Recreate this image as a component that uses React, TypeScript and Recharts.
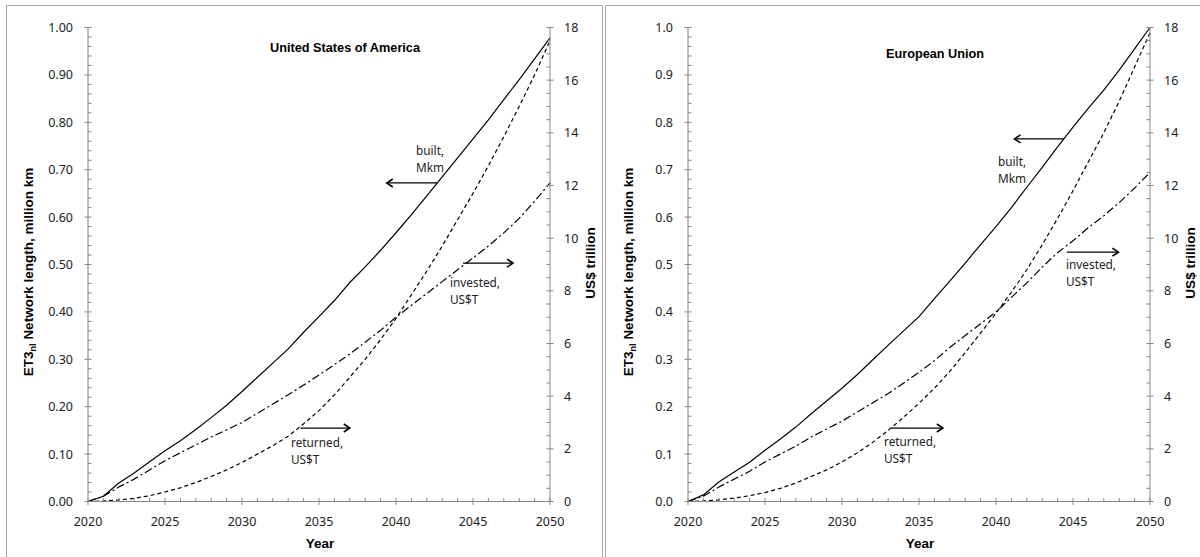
import React from 'react';
import { LineChart, Line, XAxis, YAxis, ReferenceLine } from 'recharts';

const years = [
  2020, 2021, 2022, 2023, 2024, 2025, 2026, 2027, 2028, 2029, 2030,
  2031, 2032, 2033, 2034, 2035, 2036, 2037, 2038, 2039, 2040,
  2041, 2042, 2043, 2044, 2045, 2046, 2047, 2048, 2049, 2050,
];

// million km (left axis)
const usaBuilt = [0, 0.011, 0.039, 0.06, 0.084, 0.107, 0.128, 0.152, 0.177, 0.203, 0.232, 0.262, 0.292, 0.322, 0.357, 0.39, 0.424, 0.462, 0.495, 0.53, 0.567, 0.605, 0.645, 0.685, 0.725, 0.765, 0.805, 0.848, 0.89, 0.934, 0.978];
// US$ trillion (right axis)
const usaReturned = [0, 0.02, 0.06, 0.12, 0.22, 0.36, 0.52, 0.72, 0.95, 1.2, 1.48, 1.8, 2.12, 2.48, 2.95, 3.45, 4.05, 4.72, 5.4, 6.15, 6.95, 7.85, 8.75, 9.7, 10.7, 11.7, 12.75, 13.85, 15.0, 16.2, 17.5];
const usaInvested = [0, 0.2, 0.55, 0.85, 1.2, 1.55, 1.85, 2.15, 2.45, 2.72, 3.0, 3.35, 3.7, 4.05, 4.42, 4.8, 5.2, 5.6, 6.05, 6.5, 7.0, 7.45, 7.9, 8.35, 8.8, 9.25, 9.7, 10.2, 10.75, 11.4, 12.1];

const euBuilt = [0, 0.014, 0.041, 0.062, 0.083, 0.108, 0.132, 0.157, 0.185, 0.212, 0.239, 0.268, 0.299, 0.33, 0.36, 0.39, 0.428, 0.465, 0.503, 0.542, 0.58, 0.62, 0.663, 0.705, 0.748, 0.79, 0.83, 0.868, 0.91, 0.955, 1.0];
const euReturned = [0, 0.02, 0.06, 0.13, 0.22, 0.34, 0.5, 0.7, 0.95, 1.2, 1.5, 1.85, 2.25, 2.7, 3.2, 3.73, 4.3, 4.94, 5.65, 6.4, 7.15, 7.95, 8.8, 9.75, 10.75, 11.8, 12.9, 14.0, 15.2, 16.5, 17.8];
const euInvested = [0, 0.2, 0.55, 0.85, 1.15, 1.5, 1.8, 2.1, 2.45, 2.75, 3.05, 3.4, 3.75, 4.1, 4.5, 4.9, 5.35, 5.85, 6.3, 6.75, 7.2, 7.75, 8.3, 8.9, 9.45, 9.9, 10.4, 10.85, 11.35, 11.9, 12.5];

// tick positions (majors get labels, the rest are minor marks)
const xTicks = years;
const leftTicks: number[] = [];
for (let i = 0; i <= 50; i++) leftTicks.push(i / 50);
const rightTicks: number[] = [];
for (let i = 0; i <= 36; i++) rightTicks.push(i / 2);

const AXIS = '#868686';
const TICK_FONT = '"Noto Sans", "Open Sans", sans-serif';
const BOLD_FONT = '"Liberation Sans Narrow", "Liberation Sans", Arial, sans-serif';

const near = (v: number, step: number) => Math.abs(v / step - Math.round(v / step)) < 1e-6;

const LeftTick = ({ x, y, payload, decimals }: any) => {
  const v = payload.value;
  const major = near(v, 0.1);
  return (
    <g>
      <line x1={major ? x - 3.5 : x} x2={x + 3.5} y1={y} y2={y} stroke={AXIS} />
      {major && (
        <text x={x - 15} y={y} textAnchor="end" dominantBaseline="central" fontSize={12.5} fontFamily={TICK_FONT} fill="#222">
          {v.toFixed(decimals)}
        </text>
      )}
    </g>
  );
};

const RightTick = ({ x, y, payload }: any) => {
  const v = payload.value;
  const major = near(v, 2);
  return (
    <g>
      <line x1={x - 3.5} x2={major ? x + 3.5 : x} y1={y} y2={y} stroke={AXIS} />
      {major && (
        <text x={x + 14} y={y} textAnchor="start" dominantBaseline="central" fontSize={12.5} fontFamily={TICK_FONT} fill="#222">
          {v}
        </text>
      )}
    </g>
  );
};

const BottomTick = ({ x, y, payload }: any) => {
  const v = payload.value;
  const major = v % 5 === 0;
  return (
    <g>
      <line x1={x} x2={x} y1={y - 3.5} y2={major ? y + 3.5 : y} stroke={AXIS} />
      {major && (
        <text x={x} y={y + 20} textAnchor="middle" dominantBaseline="central" fontSize={12.5} fontFamily={TICK_FONT} fill="#222">
          {v}
        </text>
      )}
    </g>
  );
};

const Arrow = (props: any) => {
  const { x1, y1, x2, y2 } = props;
  const d = x2 > x1 ? 1 : -1;
  return (
    <g>
      <line x1={x1} y1={y1} x2={x2} y2={y2} stroke="#000" strokeWidth={1.3} />
      <polyline points={`${x2 - d * 6},${y2 - 4} ${x2},${y2} ${x2 - d * 6},${y2 + 4}`} fill="none" stroke="#000" strokeWidth={1.6} />
    </g>
  );
};

type ArrowDef = { from: number; to: number; y: number };

const Panel = ({ built, returned, invested, decimals, arrows }: { built: number[]; returned: number[]; invested: number[]; decimals: number; arrows: ArrowDef[] }) => {
  const data = years.map((year, i) => ({ year, built: built[i], returned: returned[i], invested: invested[i] }));
  return (
    <LineChart width={600} height={557} data={data} margin={{ top: 27.5, right: 0, left: 0, bottom: 0 }}>
      <XAxis
        dataKey="year"
        type="number"
        domain={[2020, 2050]}
        ticks={xTicks}
        interval={0}
        height={55.5}
        stroke={AXIS}
        tickLine={false}
        tickSize={0}
        tickMargin={0}
        tick={<BottomTick />}
      />
      <YAxis
        yAxisId="left"
        orientation="left"
        type="number"
        domain={[0, 1]}
        ticks={leftTicks}
        interval={0}
        width={88}
        stroke={AXIS}
        tickLine={false}
        tickSize={0}
        tickMargin={0}
        tick={(p: any) => <LeftTick {...p} decimals={decimals} />}
      />
      <YAxis
        yAxisId="right"
        orientation="right"
        type="number"
        domain={[0, 18]}
        ticks={rightTicks}
        interval={0}
        width={50}
        stroke={AXIS}
        tickLine={false}
        tickSize={0}
        tickMargin={0}
        tick={<RightTick />}
      />
      <Line yAxisId="left" type="linear" dataKey="built" stroke="#000" strokeWidth={1.2} dot={false} isAnimationActive={false} />
      <Line yAxisId="right" type="linear" dataKey="returned" stroke="#000" strokeWidth={1.2} strokeDasharray="4 3" dot={false} isAnimationActive={false} />
      <Line yAxisId="right" type="linear" dataKey="invested" stroke="#000" strokeWidth={1.2} strokeDasharray="8 3 2 3" dot={false} isAnimationActive={false} />
      {arrows.map((a, i) => (
        <ReferenceLine
          key={i}
          yAxisId="left"
          segment={[{ x: a.from, y: a.y }, { x: a.to, y: a.y }]}
          shape={<Arrow />}
        />
      ))}
    </LineChart>
  );
};

const usaArrows: ArrowDef[] = [
  { from: 2042.7, to: 2039.4, y: 0.672 },
  { from: 2044.35, to: 2047.6, y: 0.503 },
  { from: 2033.8, to: 2037.0, y: 0.155 },
];
const euArrows: ArrowDef[] = [
  { from: 2044.4, to: 2041.2, y: 0.765 },
  { from: 2044.6, to: 2047.95, y: 0.526 },
  { from: 2033.2, to: 2036.55, y: 0.155 },
];

const Note = ({ x, y, lines }: { x: number; y: number; lines: string[] }) => (
  <>
    {lines.map((l, i) => (
      <text key={i} x={x} y={y + i * 16.5} dominantBaseline="central" fontSize={11.8} fontFamily={TICK_FONT} fill="#222">
        {l}
      </text>
    ))}
  </>
);

const Overlay = () => (
  <svg width={1200} height={557} style={{ position: 'absolute', left: 0, top: 0, pointerEvents: 'none' }}>
    <rect x={6.5} y={5.5} width={596} height={600} fill="none" stroke="#a6a6a6" />
    <rect x={605.5} y={5.5} width={620} height={600} fill="none" stroke="#a6a6a6" />

    {/* USA panel */}
    <text x={345} y={47} textAnchor="middle" dominantBaseline="central" fontSize={13.5} fontWeight="bold" fontFamily={BOLD_FONT} textLength={150} lengthAdjust="spacingAndGlyphs">United States of America</text>
    <text x={320} y={543} textAnchor="middle" dominantBaseline="central" fontSize={13.5} fontWeight="bold" fontFamily={BOLD_FONT}>Year</text>
    <text transform="translate(33,272) rotate(-90)" textAnchor="middle" fontSize={13.5} fontWeight="bold" fontFamily={BOLD_FONT}>
      ET3<tspan fontSize={9} dy={3}>nl</tspan><tspan dy={-3}> Network length, million km</tspan>
    </text>
    <text transform="translate(595,263) rotate(-90)" textAnchor="middle" fontSize={13.5} fontWeight="bold" fontFamily={BOLD_FONT}>US$ trillion</text>
    <Note x={416} y={150} lines={['built,', 'Mkm']} />
    <Note x={450} y={282} lines={['invested,', 'US$T']} />
    <Note x={291} y={442} lines={['returned,', 'US$T']} />

    {/* EU panel */}
    <text x={935} y={53} textAnchor="middle" dominantBaseline="central" fontSize={13.5} fontWeight="bold" fontFamily={BOLD_FONT} textLength={98} lengthAdjust="spacingAndGlyphs">European Union</text>
    <text x={920} y={543} textAnchor="middle" dominantBaseline="central" fontSize={13.5} fontWeight="bold" fontFamily={BOLD_FONT}>Year</text>
    <text transform="translate(633,272) rotate(-90)" textAnchor="middle" fontSize={13.5} fontWeight="bold" fontFamily={BOLD_FONT}>
      ET3<tspan fontSize={9} dy={3}>nl</tspan><tspan dy={-3}> Network length, million km</tspan>
    </text>
    <text transform="translate(1195,263) rotate(-90)" textAnchor="middle" fontSize={13.5} fontWeight="bold" fontFamily={BOLD_FONT}>US$ trillion</text>
    <Note x={998} y={161} lines={['built,', 'Mkm']} />
    <Note x={1066} y={264} lines={['invested,', 'US$T']} />
    <Note x={884} y={441} lines={['returned,', 'US$T']} />
  </svg>
);

export default function App() {
  return (
    <div style={{ position: 'absolute', left: 0, top: 0, width: 1200, height: 557, overflow: 'hidden', background: '#fff' }}>
      <div style={{ position: 'absolute', left: 0, top: 0 }}>
        <Panel built={usaBuilt} returned={usaReturned} invested={usaInvested} decimals={2} arrows={usaArrows} />
      </div>
      <div style={{ position: 'absolute', left: 600, top: 0 }}>
        <Panel built={euBuilt} returned={euReturned} invested={euInvested} decimals={1} arrows={euArrows} />
      </div>
      <Overlay />
    </div>
  );
}
